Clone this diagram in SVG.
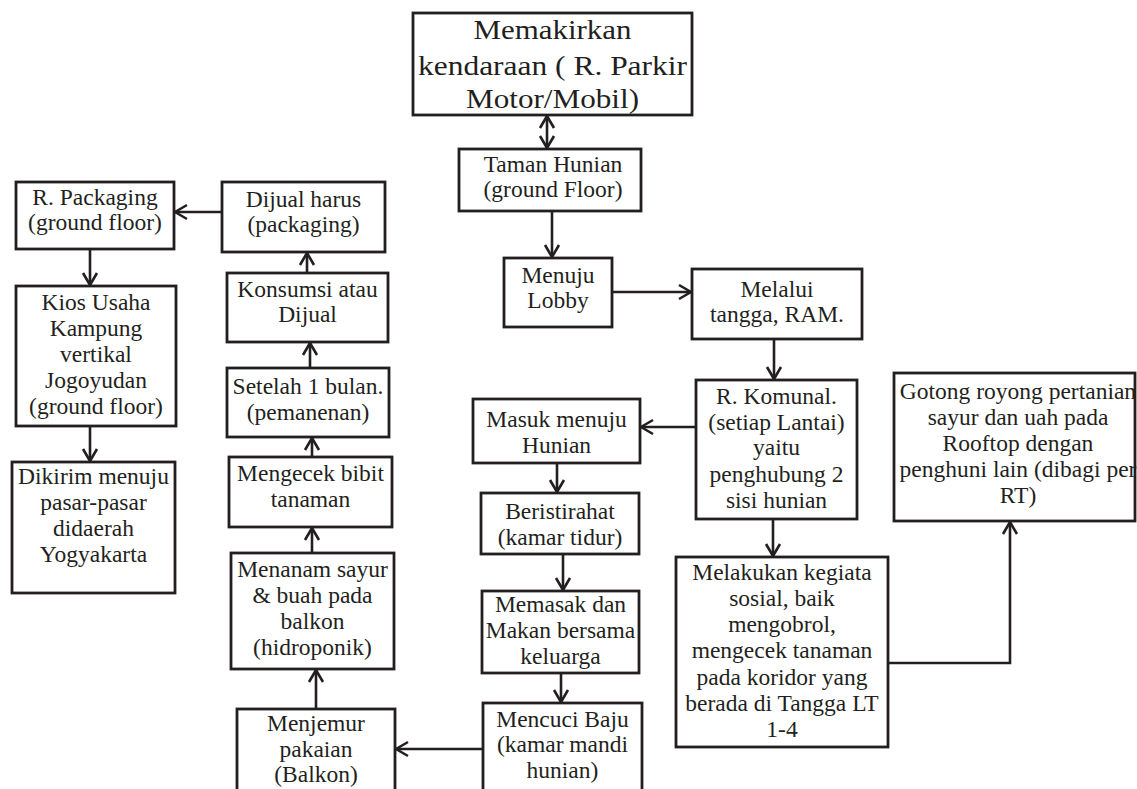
<svg xmlns="http://www.w3.org/2000/svg" width="1137" height="789" viewBox="0 0 1137 789">
<defs>
<marker id="ah" viewBox="0 0 16 18" refX="14" refY="9" markerWidth="16" markerHeight="18" markerUnits="userSpaceOnUse" orient="auto-start-reverse">
<path d="M2,2 L14,9 L2,16" fill="none" stroke="#231f20" stroke-width="2.6"/>
</marker>
<style>
rect{fill:#fff;stroke:#231f20;stroke-width:2.8}
text{font-family:"Liberation Serif","Times New Roman",serif;font-size:23.5px;fill:#231f20;text-anchor:middle}
.big{font-size:28px}
#connectors path{fill:none;stroke:#231f20;stroke-width:2.6;marker-end:url(#ah)}
</style>
</defs>
<rect x="0" y="0" width="1137" height="789" style="fill:#fff;stroke:none"/>
<g id="n-parkir"><rect x="413" y="13" width="279" height="102"/>
<text class="big" x="552.5" y="39" textLength="158" lengthAdjust="spacingAndGlyphs">Memakirkan</text>
<text class="big" x="552.5" y="75" textLength="269" lengthAdjust="spacingAndGlyphs">kendaraan ( R. Parkir</text>
<text class="big" x="552.5" y="108" textLength="173" lengthAdjust="spacingAndGlyphs">Motor/Mobil)</text></g>
<g id="n-taman"><rect x="459" y="149" width="182" height="62"/><text x="553" y="172">Taman Hunian</text><text x="553" y="197">(ground Floor)</text></g>
<g id="n-lobby"><rect x="504" y="258" width="108" height="69"/><text x="558" y="283">Menuju</text><text x="558" y="308">Lobby</text></g>
<g id="n-melalui"><rect x="692" y="269" width="170" height="70"/><text x="777" y="297">Melalui</text><text x="777" y="322">tangga, RAM.</text></g>
<g id="n-komunal"><rect x="696" y="380" width="161" height="139"/><text x="776.5" y="404">R. Komunal.</text><text x="776.5" y="430">(setiap Lantai)</text><text x="776.5" y="455">yaitu</text><text x="776.5" y="482">penghubung 2</text><text x="776.5" y="508">sisi hunian</text></g>
<g id="n-masuk"><rect x="473" y="399" width="167" height="64"/><text x="556.5" y="427">Masuk menuju</text><text x="556.5" y="453">Hunian</text></g>
<g id="n-istirahat"><rect x="481" y="493" width="158" height="61"/><text x="560" y="519">Beristirahat</text><text x="560" y="545">(kamar tidur)</text></g>
<g id="n-memasak"><rect x="482" y="591" width="157" height="82"/><text x="560.5" y="612">Memasak dan</text><text x="560.5" y="638">Makan bersama</text><text x="560.5" y="664">keluarga</text></g>
<g id="n-mencuci"><rect x="483" y="703" width="159" height="100"/><text x="562.5" y="727">Mencuci Baju</text><text x="562.5" y="752">(kamar mandi</text><text x="562.5" y="778">hunian)</text></g>
<g id="n-melakukan"><rect x="676" y="557" width="212" height="190"/><text x="782" y="580">Melakukan kegiata</text><text x="782" y="606">sosial, baik</text><text x="782" y="632">mengobrol,</text><text x="782" y="658">mengecek tanaman</text><text x="782" y="685">pada koridor yang</text><text x="782" y="711">berada di Tangga LT</text><text x="782" y="737">1-4</text></g>
<g id="n-gotong"><rect x="894" y="373" width="241" height="148"/><text x="1018" y="399">Gotong royong pertanian</text><text x="1018" y="425">sayur dan uah pada</text><text x="1018" y="451">Rooftop dengan</text><text x="1018" y="477">penghuni lain (dibagi per</text><text x="1018" y="503">RT)</text></g>
<g id="n-menjemur"><rect x="237" y="709" width="158" height="100"/><text x="316" y="731">Menjemur</text><text x="316" y="757">pakaian</text><text x="316" y="782">(Balkon)</text></g>
<g id="n-menanam"><rect x="231" y="553" width="163" height="116"/><text x="312.5" y="577">Menanam sayur</text><text x="312.5" y="603">&amp; buah pada</text><text x="312.5" y="629">balkon</text><text x="312.5" y="655">(hidroponik)</text></g>
<g id="n-mengecek"><rect x="229" y="457" width="163" height="70"/><text x="310.5" y="481">Mengecek bibit</text><text x="310.5" y="507">tanaman</text></g>
<g id="n-setelah"><rect x="227" y="368" width="162" height="69"/><text x="308" y="394">Setelah 1 bulan.</text><text x="308" y="420">(pemanenan)</text></g>
<g id="n-konsumsi"><rect x="227" y="273" width="161" height="69"/><text x="307.5" y="297">Konsumsi atau</text><text x="307.5" y="322">Dijual</text></g>
<g id="n-dijual"><rect x="222" y="182" width="163" height="70"/><text x="303.5" y="207">Dijual harus</text><text x="303.5" y="232">(packaging)</text></g>
<g id="n-packaging"><rect x="16" y="182" width="158" height="67"/><text x="95" y="205">R. Packaging</text><text x="95" y="230">(ground floor)</text></g>
<g id="n-kios"><rect x="16" y="286" width="160" height="140"/><text x="96" y="310">Kios Usaha</text><text x="96" y="336">Kampung</text><text x="96" y="362">vertikal</text><text x="96" y="388">Jogoyudan</text><text x="96" y="414">(ground floor)</text></g>
<g id="n-dikirim"><rect x="12" y="462" width="163" height="131"/><text x="93.5" y="484">Dikirim menuju</text><text x="93.5" y="510">pasar-pasar</text><text x="93.5" y="536">didaerah</text><text x="93.5" y="562">Yogyakarta</text></g>
<g id="connectors">
<path d="M547,116 L547,148" style="marker-start:url(#ah)"/>
<path d="M552,211 L552,257"/>
<path d="M612,292 L691,292"/>
<path d="M774,339 L774,379"/>
<path d="M696,427 L641,427"/>
<path d="M773,519 L773,556"/>
<path d="M888,663 L1010,663 L1010,522"/>
<path d="M557,463 L557,492"/>
<path d="M563,554 L563,590"/>
<path d="M561,673 L561,702"/>
<path d="M483,749 L396,749"/>
<path d="M316,709 L316,670"/>
<path d="M312,553 L312,528"/>
<path d="M312,457 L312,438"/>
<path d="M310,368 L310,343"/>
<path d="M307,273 L307,253"/>
<path d="M222,212 L175,212"/>
<path d="M90,249 L90,285"/>
<path d="M90,426 L90,461"/>
</g>
</svg>
